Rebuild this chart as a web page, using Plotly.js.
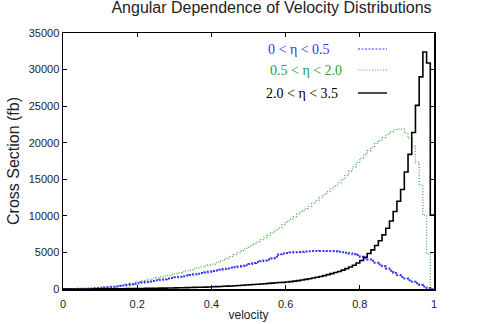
<!DOCTYPE html>
<html><head><meta charset="utf-8">
<script src="https://cdn.plot.ly/plotly-3.0.1.min.js"></script>
<style>body{margin:0;padding:0;background:#fff}#chart{width:485px;height:324px}</style>
</head><body><div id="chart"></div>
<script>
// 100 bins of width 0.01 over velocity 0..1
const BIN_WIDTH = 0.01;
const blueVals = [
0,2,6,12,20,32,50,70,95,125,
165,205,250,300,355,420,490,560,640,720,
800,875,950,1030,1110,1190,1270,1350,1430,1510,
1590,1670,1750,1830,1910,2000,2090,2180,2270,2360,
2450,2540,2630,2720,2810,2900,2990,3080,3170,3260,
3420,3540,3660,3780,3900,4030,4170,4400,4750,4850,
4920,4980,5030,5070,5100,5130,5160,5180,5200,5210,
5210,5200,5180,5150,5100,5040,4960,4870,4760,4640,
4400,4250,4050,3850,3600,3350,3100,2800,2500,2200,
1900,1650,1420,1200,1000,780,560,340,130,0];
const greenVals = [
0,2,5,10,18,28,42,60,85,115,
170,215,270,330,400,480,570,670,780,900,
1040,1140,1240,1340,1440,1540,1650,1760,1870,1980,
2100,2220,2340,2470,2600,2740,2880,3020,3160,3280,
3400,3600,3800,4000,4200,4450,4700,4950,5250,5550,
5850,6150,6450,6750,7050,7350,7700,8050,8400,8800,
9200,9550,9900,10250,10600,10950,11300,11700,12100,12500,
12900,13300,13700,14100,14500,15000,15500,16100,16700,17300,
17900,18400,18900,19400,19900,20300,20700,21100,21500,21800,
21900,21850,21300,20600,19500,17300,14200,10100,4800,0];
const blackVals = [
0,1,2,3,4,6,8,10,12,15,
18,21,25,29,33,38,43,48,54,60,
66,73,80,88,96,105,114,124,134,145,
156,167,179,191,204,217,231,245,260,280,
300,320,345,370,395,420,450,480,510,545,
580,615,650,690,725,765,805,845,880,910,
950,1010,1080,1150,1230,1310,1400,1500,1600,1710,
1830,1960,2100,2250,2400,2580,2780,3000,3250,3550,
3900,4350,4850,5350,5950,6600,7400,8300,9300,10600,
12000,13600,16000,18400,21400,25100,29000,32400,30900,10100];
const seriesNames = ["0 &lt; η &lt; 0.5", "0.5 &lt; η &lt; 2.0", "2.0 &lt; η &lt; 3.5"];
const xTicks = [0, 0.2, 0.4, 0.6, 0.8, 1];
const xTickText = ["0", "0.2", "0.4", "0.6", "0.8", "1"];
const yTicks = [0, 5000, 10000, 15000, 20000, 25000, 30000, 35000];
const yTickText = ["0", "5000", "10000", "15000", "20000", "25000", "30000", "35000"];

function stepTrace(vals, color, width, dash, name) {
  const x = vals.map((v, i) => i * BIN_WIDTH);
  x.push(vals.length * BIN_WIDTH);
  const y = vals.slice(); y.push(vals[vals.length - 1]);
  return {x: x, y: y, type: 'scatter', mode: 'lines', name: name,
    line: {shape: 'hv', color: color, width: width, dash: dash}, showlegend: false, hoverinfo: 'skip'};
}
const BLUE = '#3535f5', GREEN = '#45b045', BLACK = '#000000';
const traces = [
  stepTrace(greenVals, GREEN, 1.3, '1px,1.8px', seriesNames[1]),
  stepTrace(blueVals, BLUE, 2, '2px,1.5px', seriesNames[0]),
  stepTrace(blackVals, BLACK, 1.6, 'solid', seriesNames[2])
];
const W = 485, H = 324, L = 63, R = 434, T = 33, B = 289;
function px2x(p){return (p - L)/(R - L);} function px2y(p){return (B - p)/(B - T);}
const leg = [
  {text: seriesNames[0], color: BLUE, cx: 299, y: 49, dash: '2px,1.5px', w: 1.2},
  {text: seriesNames[1], color: GREEN, cx: 306, y: 70, dash: '1px,1.8px', w: 1.2},
  {text: seriesNames[2], color: BLACK, cx: 302, y: 93, dash: 'solid', w: 1.4}
];
const annotations = leg.map(l => ({xref:'paper', yref:'paper', x: px2x(l.cx), y: px2y(l.y), xanchor:'center', yanchor:'middle',
  text: l.text, showarrow:false, font:{family:'Liberation Serif, Times New Roman, serif', size:14, color:l.color === GREEN ? '#2e9e2e' : l.color}}));
const shapes = leg.map(l => ({type:'line', xref:'paper', yref:'paper', x0: px2x(358), x1: px2x(387), y0: px2y(l.y), y1: px2y(l.y),
  line:{color:l.color, width:l.w, dash:l.dash}}));
annotations.push({xref:'paper', yref:'paper', x: px2x(13), y: 0.5, xanchor:'center', yanchor:'middle', textangle:-90,
  text:'Cross Section (fb)', showarrow:false, font:{family:'Liberation Sans, Arial, sans-serif', size:16, color:'#222'}});
const layout = {
  width: W, height: H, margin: {l: L, r: W - R, t: T, b: H - B},
  paper_bgcolor: '#fff', plot_bgcolor: '#fff',
  font: {family: 'Liberation Sans, Arial, sans-serif', size: 11, color: '#222'},
  title: {text: 'Angular Dependence of Velocity Distributions', x: 271.5 / W, xref: 'container', xanchor: 'center',
    y: 1 - 2 / H, yref: 'container', yanchor: 'top', font: {size: 16, color: '#222'}},
  xaxis: {range: [0, 1], tickvals: xTicks, ticktext: xTickText, ticks: 'inside', ticklen: 4, tickcolor: '#000',
    showline: true, linecolor: '#000', linewidth: 1.5, mirror: 'ticks', showgrid: false, zeroline: false,
    ticklabelstandoff: 4,
    title: {text: 'velocity', font: {size: 12, color: '#222'}, standoff: 2}},
  yaxis: {range: [0, 35000], tickvals: yTicks, ticktext: yTickText, ticks: 'inside', ticklen: 4, tickcolor: '#000',
    showline: true, linecolor: '#000', linewidth: 1.5, mirror: 'ticks', showgrid: false, zeroline: false,
    ticklabelstandoff: 0},
  annotations: annotations, shapes: shapes, showlegend: false
};
Plotly.newPlot('chart', traces, layout, {staticPlot: true, displayModeBar: false});
</script></body></html>
